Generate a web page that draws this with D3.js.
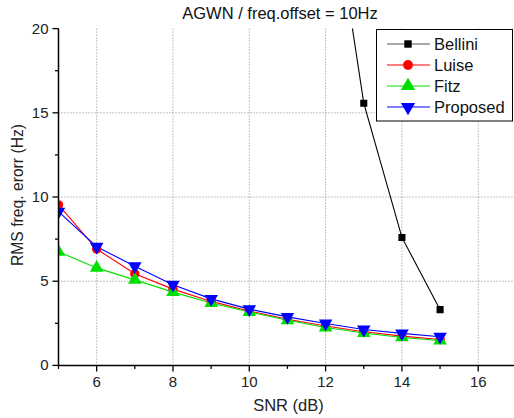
<!DOCTYPE html>
<html><head><meta charset="utf-8">
<script src="https://cdn.jsdelivr.net/npm/d3@7/dist/d3.min.js"></script>
<style>body{margin:0;background:#fff}svg{display:block;font-family:"Liberation Sans",Arial,sans-serif}</style>
</head><body><svg id="c" width="514" height="418"></svg>
<script>
const snr = [5,6,7,8,9,10,11,12,13,14,15];
const belliniX = [12,13,14,15];
const bellini = [30.5,15.57,7.6,3.31];
const luise = [9.53,6.91,5.44,4.53,3.80,3.23,2.74,2.34,2.00,1.74,1.54];
const fitz = [6.75,5.79,5.08,4.35,3.70,3.17,2.68,2.25,1.92,1.66,1.48];
const proposed = [9.13,7.05,5.89,4.79,3.95,3.34,2.88,2.49,2.13,1.90,1.70];
const xTicks = [6,8,10,12,14,16];
const yTicks = [0,5,10,15,20];
const seriesNames = ["Bellini","Luise","Fitz","Proposed"];
const colors = ["#000000","#ff0000","#00e000","#0000ff"];
const legendLineColors = ["#555555","#ff0000","#00e000","#0000ff"];
const symbols = [d3.symbolSquare, d3.symbolCircle, d3.symbolTriangle, "down"];

const svg = d3.select("#c");
const x = d3.scaleLinear().domain([5,17]).range([58.5,516.4]);
const y = d3.scaleLinear().domain([0,20]).range([365.4,28.6]);

// grid
const g = svg.append("g");
g.selectAll(".vg").data(xTicks).join("line")
  .attr("x1",d=>x(d)).attr("x2",d=>x(d)).attr("y1",y(20)).attr("y2",y(0))
  .attr("stroke","#888").attr("stroke-width",1).attr("stroke-dasharray","1,2");
g.selectAll(".hg").data([5,10,15]).join("line")
  .attr("x1",x(5)).attr("x2",514).attr("y1",d=>y(d)).attr("y2",d=>y(d))
  .attr("stroke","#888").attr("stroke-width",1).attr("stroke-dasharray","1,2");

// clip
svg.append("clipPath").attr("id","pc").append("rect")
  .attr("x",x(5)).attr("y",y(20)).attr("width",x(17)-x(5)).attr("height",y(0)-y(20));

function marker(sym,size){
  if(sym==="down") return d3.symbol().type(d3.symbolTriangle).size(size)() ;
  return d3.symbol().type(sym).size(size)();
}
const msize = [50,70,80,80];

const data = [
  belliniX.map((d,i)=>[d,bellini[i]]),
  snr.map((d,i)=>[d,luise[i]]),
  snr.map((d,i)=>[d,fitz[i]]),
  snr.map((d,i)=>[d,proposed[i]])
];
const line = d3.line().x(d=>x(d[0])).y(d=>y(d[1]));
const plot = svg.append("g").attr("clip-path","url(#pc)");
data.forEach((ser,si)=>{
  plot.append("path").attr("d",line(ser)).attr("fill","none")
    .attr("stroke",colors[si]).attr("stroke-width",1.1);
});
data.forEach((ser,si)=>{
  plot.selectAll(null).data(ser.filter(d=>d[1]<=20)).join("path")
    .attr("d",marker(symbols[si],msize[si]))
    .attr("transform",d=>`translate(${x(d[0])},${y(d[1])})`+(symbols[si]==="down"?" rotate(180)":""))
    .attr("fill",colors[si]);
});

// axes
const xAxis = svg.append("g").attr("transform",`translate(0,${y(0)})`);
xAxis.append("line").attr("x1",x(5)).attr("x2",514).attr("stroke","#000").attr("stroke-width",1.5);
xAxis.selectAll(".mt").data(xTicks).join("line").attr("x1",d=>x(d)).attr("x2",d=>x(d)).attr("y1",0).attr("y2",6).attr("stroke","#000").attr("stroke-width",1.3);
xAxis.selectAll(".nt").data([5,7,9,11,13,15,17]).join("line").attr("x1",d=>x(d)).attr("x2",d=>x(d)).attr("y1",0).attr("y2",3.5).attr("stroke","#000").attr("stroke-width",1.3);
xAxis.selectAll(".tl").data(xTicks).join("text").attr("x",d=>x(d)).attr("y",22).attr("text-anchor","middle").attr("font-size",15).attr("fill","#222").text(d=>d);

const yAxis = svg.append("g").attr("transform",`translate(${x(5)},0)`);
yAxis.append("line").attr("y1",y(0)).attr("y2",y(20)).attr("stroke","#000").attr("stroke-width",1.5);
yAxis.selectAll(".mt").data(yTicks).join("line").attr("y1",d=>y(d)).attr("y2",d=>y(d)).attr("x1",0).attr("x2",-6).attr("stroke","#000").attr("stroke-width",1.3);
yAxis.selectAll(".nt").data([2.5,7.5,12.5,17.5]).join("line").attr("y1",d=>y(d)).attr("y2",d=>y(d)).attr("x1",0).attr("x2",-3.5).attr("stroke","#000").attr("stroke-width",1.3);
yAxis.selectAll(".tl").data(yTicks).join("text").attr("x",-10).attr("y",d=>y(d)+5).attr("text-anchor","end").attr("font-size",15).attr("fill","#222").text(d=>d);

// labels
svg.append("text").attr("x",288.5).attr("y",411).attr("text-anchor","middle").attr("font-size",16.5).attr("fill","#222").text("SNR (dB)");
svg.append("text").attr("transform","translate(22.5,195) rotate(-90)").attr("text-anchor","middle").attr("font-size",15.7).attr("fill","#222").text("RMS freq. erorr (Hz)");
svg.append("text").attr("x",280).attr("y",19).attr("text-anchor","middle").attr("font-size",16.5).attr("fill","#111").text("AGWN / freq.offset = 10Hz");

// legend
const lg = svg.append("g");
lg.append("rect").attr("x",376.5).attr("y",29.5).attr("width",136).attr("height",91.5).attr("fill","#fff").attr("stroke","#000").attr("stroke-width",1);
seriesNames.forEach((n,i)=>{
  const yy = 44 + i*21;
  lg.append("line").attr("x1",387).attr("x2",430).attr("y1",yy).attr("y2",yy).attr("stroke",legendLineColors[i]).attr("stroke-width",1.1);
  lg.append("path").attr("d",marker(symbols[i],msize[i]*1.1))
    .attr("transform",`translate(408,${yy})`+(symbols[i]==="down"?" rotate(180)":""))
    .attr("fill",colors[i]);
  lg.append("text").attr("x",434).attr("y",yy+6).attr("font-size",16.5).attr("fill","#111").text(n);
});
</script></body></html>
